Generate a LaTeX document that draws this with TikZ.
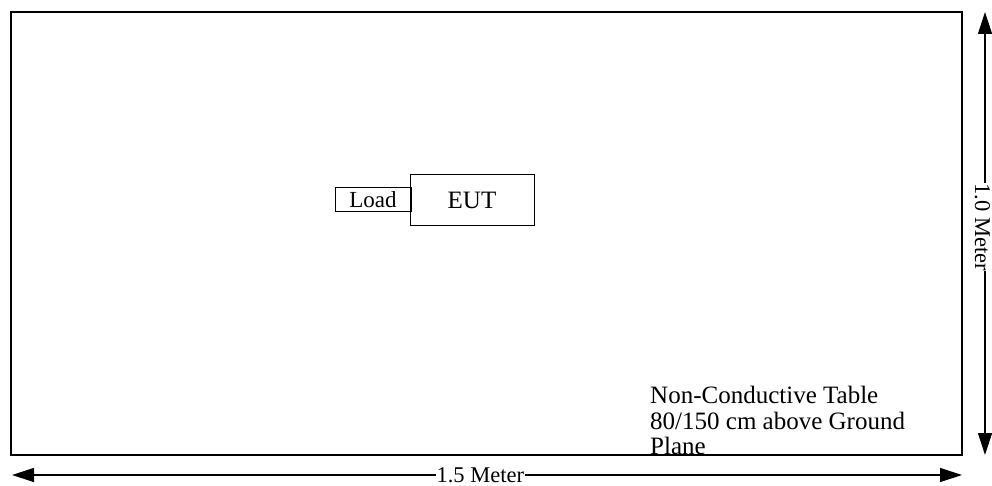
\documentclass[tikz,border=0pt]{standalone}
\usepackage{fontspec}
\setmainfont{Liberation Serif}
\usetikzlibrary{arrows.meta}
\begin{document}
\begin{tikzpicture}[x=1pt,y=-1pt,
  box/.style={draw,line width=1pt},
  dim/.style={line width=1.2pt,{Triangle[length=22pt,width=14pt]}-{Triangle[length=22pt,width=14pt]}},
  lbl/.style={fill=white,inner sep=0.5pt,font=\fontsize{22.5}{22.5}\selectfont}]
\useasboundingbox (0,0) rectangle (992,486);
\draw[line width=2.6pt] (11,12) rectangle (962,455);
\node[box,minimum width=124pt,minimum height=51pt,inner sep=0pt,font=\fontsize{25}{25}\selectfont] (eut) at (472,200.5) {EUT};
\node[box,minimum width=76pt,minimum height=24pt,inner sep=0pt,font=\fontsize{23}{23}\selectfont] (load) at (373,200) {Load};
\coordinate (bl) at (12,475);
\coordinate (br) at (962,475);
\draw[dim] (bl) -- node[lbl,pos=0.493] (w) {1.5 Meter} (br);
\coordinate (rt) at (985,12);
\coordinate (rb) at (985,455);
\draw[dim] (rt) -- (rb);
\node[lbl,rotate=-90] (h) at (982.5,227) {1.0 Meter};
\node[anchor=north west,align=left,inner sep=0pt,font=\fontsize{25}{25.5}\selectfont] (note) at (650,386) {Non-Conductive Table\\80/150 cm above Ground\\Plane};
\end{tikzpicture}
\end{document}
